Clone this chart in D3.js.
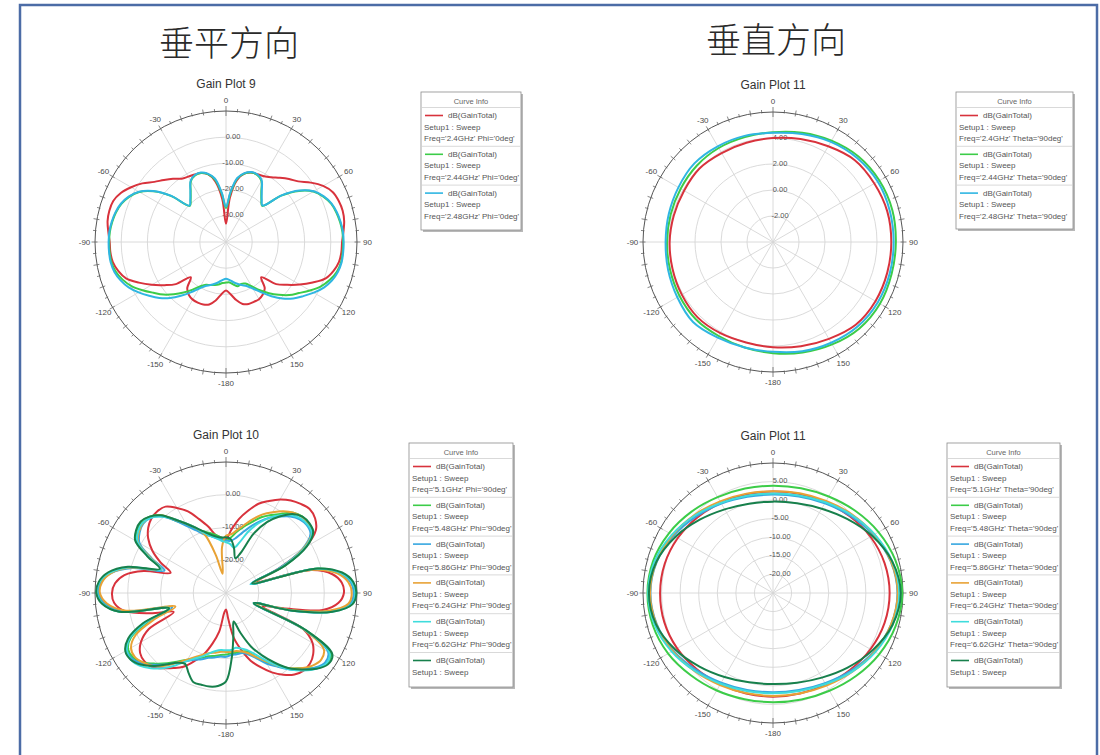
<!DOCTYPE html>
<html>
<head>
<meta charset="utf-8">
<script src="https://cdn.jsdelivr.net/npm/d3@7"></script>
<style>
  body { margin: 0; background: #fff; }
  svg { display: block; }
  text { font-family: "Liberation Sans", Arial, sans-serif; }
</style>
</head>
<body>
<div id="chart"></div>
<script>
var width = 1100, height = 755;
var svg = d3.select('#chart').append('svg')
  .attr('width', width)
  .attr('height', height);

// angles in degrees, 0 at top, clockwise (HFSS style)
var anglesFine = [-180,-175,-170,-165,-160,-155,-150,-145,-140,-135,-130,-125,-120,-115,-110,-105,-100,-95,-90,-85,-80,-75,-70,-65,-60,-55,-50,-45,-40,-35,-30,-25,-20,-15,-10,-5,0,5,10,15,20,25,30,35,40,45,50,55,60,65,70,75,80,85,90,95,100,105,110,115,120,125,130,135,140,145,150,155,160,165,170,175];
var anglesCoarse = [-180,-165,-150,-135,-120,-105,-90,-75,-60,-45,-30,-15,0,15,30,45,60,75,90,105,120,135,150,165];

var angleTicks = [0,30,60,90,120,150,180,210,240,270,300,330];
var angleTickLabels = ['0','30','60','90','120','150','-180','-150','-120','-90','-60','-30'];

// Gain Plot 9 : Phi = 0deg, dB(GainTotal)
var gp9Red   = [-21.5,-20,-17.3,-15.3,-14.6,-14.5,-14.6,-15.3,-17,-21,-15,-11.3,-7.3,-3.3,0.6,2.6,3.9,4.3,4.4,5.1,5.9,6.1,5.8,4.3,1.8,-1,-4.3,-6.5,-8.5,-10.5,-11.2,-11.6,-12,-13.2,-16.5,-23.5,-33,-23,-16,-13,-11.8,-11.5,-11,-9.8,-8,-6,-4,-0.5,2.8,5,5.8,6.1,5.8,5,4.3,4.2,3.8,2.5,0.5,-3.5,-7.5,-11.5,-15,-21,-17,-15.5,-14.8,-14.8,-14.8,-15.5,-17.5,-20];
var gp9Green = [-24.5,-24.3,-23.5,-23,-22.5,-22,-20.5,-17.8,-14.8,-11.8,-8.8,-6.2,-3.2,-0.2,2,3.6,4.4,4.6,4.6,4.5,4.1,3.5,2.5,0.8,-1.8,-6.3,-12.8,-20.5,-19,-16.5,-13.2,-12,-12,-13.2,-15.8,-21.5,-27,-21.5,-15.5,-13,-11.8,-11.8,-13,-16.5,-19,-20.5,-12.5,-6,-1.5,1,2.7,3.6,4.2,4.6,4.7,4.7,4.6,3.8,2.2,0,-3,-6,-8.5,-11.5,-14.5,-17.5,-20.5,-22.5,-23,-22.5,-23.5,-24.5];
var gp9Cyan  = [-26,-25.5,-24.5,-23.5,-22.5,-21.5,-19.5,-16.5,-13.2,-9.8,-6.8,-4.2,-1.5,1,2.8,4.1,4.7,4.8,4.8,4.7,4.3,3.7,2.7,1,-1.6,-6,-12.5,-20.3,-18.8,-16.3,-13,-11.8,-11.8,-13,-15.4,-21,-26.5,-21,-15.2,-12.8,-11.6,-11.6,-12.8,-16.2,-18.8,-20.3,-12.3,-5.8,-1.3,1.2,2.9,3.8,4.4,4.8,4.9,4.9,4.8,4.2,3,1.2,-1.3,-4,-6.5,-9.5,-13,-16.5,-19.5,-21.5,-22.5,-23.5,-24.5,-25.5];
var gp9Rings = [-30,-20,-10,0];
var gp9Freq = ["Freq='2.4GHz' Phi='0deg'", "Freq='2.44GHz' Phi='0deg'", "Freq='2.48GHz' Phi='0deg'"];

// Gain Plot 11 (upper) : Theta = 90deg
var gp11aRed   = [4.1,4.0,4.1,4.2,4.1,4.0,3.95,3.9,3.9,4.0,3.9,3.9,4.0,4.2,4.5,4.9,5.0,5.1,5.1,5.1,5.1,5.0,4.6,4.3];
var gp11aGreen = [4.55,4.4,4.35,4.4,4.3,4.2,4.15,4.15,4.2,4.3,4.35,4.35,4.45,4.7,5.0,5.3,5.45,5.5,5.45,5.45,5.5,5.4,5.1,4.8];
var gp11aCyan  = [4.45,4.4,4.5,4.7,4.5,4.35,4.26,4.3,4.4,4.55,4.5,4.45,4.4,4.6,4.9,5.15,5.3,5.3,5.28,5.3,5.3,5.2,4.95,4.7];
var gp11aRings = [-2,0,2,4];
var gp11aFreq = ["Freq='2.4GHz' Theta='90deg'", "Freq='2.44GHz' Theta='90deg'", "Freq='2.48GHz' Theta='90deg'"];

// Gain Plot 10 : Phi = 90deg, 5-7 GHz band
var gp10F510 = [-25,-24,-18,-14,-10,-7,-4,-2,0,2,2.5,2,0,-4,-13,-6,1.5,4.3,4.8,4,1.5,-4,-12,-8,-4,-1,1,2.2,2.6,2.2,0,-2.5,-6,-9,-12,-13,-13.5,-10.5,-7,-4,-1,1,3,4.5,5.5,6.2,5.5,3.5,-2,-12,-20,-3,3,5.5,6,4.5,0,-12,-18,-4,0.5,2.5,3.5,3.5,2.5,0.5,-2,-5,-8,-12,-16,-22];
var gp10F548 = [-11.2,-11,-10.5,-10,-9,-8,-6.5,-4.5,-2,0.5,3,4.5,4.5,2,-5,-12,3,7.5,9.2,8.6,6,0,-9,-4,1.5,3,3.8,3,1,-3,-6,-8.5,-10,-11,-12,-13,-14,-13,-11,-9,-7,-4.5,-2.5,-0.5,2,3,3,2.5,-2,-10,-21,-1,5.5,8.5,9.3,8.3,2,-10,-21,-3,7,7.5,5.5,2.5,0,-3,-5.5,-8.5,-11,-11.5,-11.5,-11.5];
var gp10F586 = [-10.5,-10.5,-10,-9.5,-8.5,-7.5,-6,-4,-1.5,1,3.5,5,5,2.5,-4,-13,2,7,8.8,8.2,5.5,-0.5,-10,-5,0.5,2.2,3,2.5,0.5,-3,-6.5,-9,-11,-12,-13,-13.5,-14,-14,-13,-11,-8.5,-6,-3.5,-1.5,0.5,1.8,2.2,1.5,-3,-12,-22,-2,5,8.2,9,8,2.5,-9,-21,-4,6,7,5.5,3,0.5,-2.5,-5,-8,-10,-11,-11,-11];
var gp10F624 = [-12,-12,-11.5,-11,-10,-8.5,-6.5,-4,-1,1.5,3,4,3.5,0.5,-7,-14,1,6.5,8.5,8,5.5,0,-9,-4.5,1,2.5,3.2,2.8,1,-2.5,-5.5,-8,-11,-18,-24,-16,-12.5,-12,-10.5,-8.5,-6,-3.5,-1.5,0.5,2,2.8,2.8,2,-2.5,-11,-21,-2.5,4.5,7.5,8.4,7.5,1.5,-10,-20,-4,4.5,5.5,4.5,2.5,0,-3,-6,-8.5,-10.5,-11.5,-12,-12];
var gp10F662 = [-12.5,-12.5,-12,-11,-9.5,-8,-6,-3,0,2.5,4.5,5.5,5,2.5,-4,-12,3,7.8,9.4,8.8,6,0.5,-9,-4,1.2,2.8,3.3,2.5,0.5,-2.5,-5.5,-8,-10.5,-12,-13,-14,-14.5,-15,-16,-14,-10,-6.5,-3.5,-1,1,2.2,2.5,2,-2,-11,-22,-1.5,5.5,8.6,9.5,8.6,3,-9,-21,-3.5,6.5,7.5,6,3.5,0.5,-3,-6.5,-9.5,-11.5,-12.5,-13,-12.5];
var gp10F700 = [-3,-1.5,-1,-1,-1,-3,-5,-4,-1.5,1.5,4,5.5,5.5,3,-3,-12,3,8,9.6,9,6.5,1,-8.5,-3.5,2,3.5,4,3,1,-2.5,-5.5,-8,-10,-11.5,-12.5,-13,-13,-13.5,-16,-19,-17,-10,-5,-1.5,1.5,3,3.2,2.5,-1.5,-10,-21.5,-1,6,9,9.8,8.8,3,-9,-21,-3,7.5,8,6,3,0,-4,-8,-12,-17,-21,-17,-10];
var gp10Rings = [-20,-10,0];
var gp10Freq = ["Freq='5.1GHz' Phi='90deg'", "Freq='5.48GHz' Phi='90deg'", "Freq='5.86GHz' Phi='90deg'", "Freq='6.24GHz' Phi='90deg'", "Freq='6.62GHz' Phi='90deg'", null];

// Gain Plot 11 (lower) : Theta = 90deg, 5-7 GHz band
var gp11bF510 = [2.9,3.0,3.3,4.0,4.8,5.3,5.4,5.2,4.6,3.8,3.0,2.5,2.3,2.6,3.2,4.2,5.3,6.1,6.4,6.1,5.3,4.3,3.4,3.0];
var gp11bF548 = [4.4,4.6,5.3,6.3,7.6,8.5,8.8,8.4,7.3,6.0,4.8,4.1,3.9,4.2,5.0,6.3,7.8,9.1,9.8,9.2,8.0,6.6,5.4,4.7];
var gp11bF586 = [1.7,2.0,2.9,4.3,6.0,7.4,8.0,7.4,5.9,4.2,2.8,1.8,1.5,1.9,2.9,4.4,6.2,7.8,8.5,7.9,6.4,4.6,3.0,2.0];
var gp11bF624 = [2.7,2.9,3.6,4.8,6.2,7.5,8.1,7.5,6.2,4.8,3.5,2.7,2.4,2.8,3.6,5.0,6.5,7.9,8.6,7.9,6.6,5.1,3.8,3.0];
var gp11bF662 = [2.0,2.3,3.2,4.7,6.5,8.0,8.6,8.0,6.4,4.6,3.0,2.1,1.8,2.2,3.2,4.8,6.6,8.2,9.0,8.3,6.8,5.0,3.3,2.3];
var gp11bF700 = [-0.5,-0.1,1.1,3.0,5.4,7.6,8.4,7.5,5.3,2.9,1.0,-0.1,-0.4,0.0,1.2,3.2,5.8,8.2,9.4,8.3,5.9,3.4,1.3,0.0];
var gp11bRings = [-20,-15,-10,-5,0,5];
var gp11bFreq = ["Freq='5.1GHz' Theta='90deg'", "Freq='5.48GHz' Theta='90deg'", "Freq='5.86GHz' Theta='90deg'", "Freq='6.24GHz' Theta='90deg'", "Freq='6.62GHz' Theta='90deg'", null];

var colors3 = ['#d8323c', '#3ccc48', '#2fb6e2'];
var colors6 = ['#d8323c', '#3ccc48', '#36a6e0', '#e8a235', '#3fdcdc', '#17804c'];

var rad = Math.PI / 180;

// frame
svg.append('rect')
  .attr('x', 20).attr('y', 5)
  .attr('width', 1077).attr('height', 780)
  .attr('fill', 'none')
  .attr('stroke', '#4c6ca6')
  .attr('stroke-width', 2.5);

// headings
svg.append('text').attr('x', 229).attr('y', 56)
  .attr('text-anchor', 'middle')
  .style('font-family', '"Noto Sans CJK SC", "Noto Sans CJK JP", sans-serif')
  .style('font-weight', 300)
  .attr('font-size', 35).attr('fill', '#2a2a2a')
  .text('垂平方向');
svg.append('text').attr('x', 776).attr('y', 53)
  .attr('text-anchor', 'middle')
  .style('font-family', '"Noto Sans CJK SC", "Noto Sans CJK JP", sans-serif')
  .style('font-weight', 300)
  .attr('font-size', 35).attr('fill', '#2a2a2a')
  .text('垂直方向');

function polarPlot(p) {
  var r = d3.scaleLinear().domain(p.domain).range([0, p.R]).clamp(true);

  svg.append('text')
    .attr('x', p.cx).attr('y', p.cy - p.R - 23)
    .attr('text-anchor', 'middle')
    .attr('font-size', 12).attr('fill', '#333')
    .text(p.title);

  var g = svg.append('g').attr('transform', 'translate(' + p.cx + ',' + p.cy + ')');

  g.selectAll('circle.ring')
    .data(p.rings)
    .enter().append('circle')
    .attr('class', 'ring')
    .attr('r', function(d) { return r(d); })
    .attr('fill', 'none')
    .attr('stroke', '#d6d6d6')
    .attr('stroke-width', 0.9);

  g.selectAll('line.spoke')
    .data(angleTicks)
    .enter().append('line')
    .attr('class', 'spoke')
    .attr('x1', 0).attr('y1', 0)
    .attr('x2', function(d) { return p.R * Math.sin(d * rad); })
    .attr('y2', function(d) { return -p.R * Math.cos(d * rad); })
    .attr('stroke', '#d6d6d6')
    .attr('stroke-width', 0.9);

  g.append('circle')
    .attr('r', p.R)
    .attr('fill', 'none')
    .attr('stroke', '#555')
    .attr('stroke-width', 1);

  // ticks round the rim
  var ticks = d3.range(0, 360, 5);
  function tin(d) { return d % 180 === 0 ? 5 : (d % 10 === 0 ? 2.5 : 1); }
  function tout(d) { return d % 180 === 0 ? 5 : (d % 10 === 0 ? 3.5 : 2.5); }
  g.selectAll('line.tick')
    .data(ticks)
    .enter().append('line')
    .attr('class', 'tick')
    .attr('x1', function(d) { return (p.R - tin(d)) * Math.sin(d * rad); })
    .attr('y1', function(d) { return -(p.R - tin(d)) * Math.cos(d * rad); })
    .attr('x2', function(d) { return (p.R + tout(d)) * Math.sin(d * rad); })
    .attr('y2', function(d) { return -(p.R + tout(d)) * Math.cos(d * rad); })
    .attr('stroke', '#666')
    .attr('stroke-width', 0.8);

  g.selectAll('text.alab')
    .data(angleTicks)
    .enter().append('text')
    .attr('class', 'alab')
    .attr('x', function(d) { return (p.R + 10.5) * Math.sin(d * rad); })
    .attr('y', function(d) { return -(p.R + 10.5) * Math.cos(d * rad); })
    .attr('text-anchor', 'middle')
    .attr('dominant-baseline', 'central')
    .attr('font-size', 8).attr('fill', '#4a4a4a')
    .text(function(d, i) { return angleTickLabels[i]; });

  g.selectAll('text.rlab')
    .data(p.rings)
    .enter().append('text')
    .attr('class', 'rlab')
    .attr('x', 7)
    .attr('y', function(d) { return -r(d) - 1; })
    .attr('text-anchor', 'middle')
    .attr('dominant-baseline', 'central')
    .attr('font-size', 7.5).attr('fill', '#555')
    .text(function(d) { return d.toFixed(2); });

  var line = d3.lineRadial()
    .angle(function(d, i) { return p.angles[i] * rad; })
    .radius(function(d) { return r(d); })
    .curve(d3.curveCatmullRomClosed.alpha(0.5));

  g.selectAll('path.curve')
    .data(p.series)
    .enter().append('path')
    .attr('class', 'curve')
    .attr('d', function(d) { return line(d.values); })
    .attr('fill', 'none')
    .attr('stroke', function(d) { return d.color; })
    .attr('stroke-width', 2);
}

function legend(lg) {
  var g = svg.append('g').attr('transform', 'translate(' + lg.x + ',' + lg.y + ')');
  var step = 38.8;
  g.append('rect').attr('x', 2).attr('y', 2)
    .attr('width', lg.w).attr('height', lg.h)
    .attr('fill', '#b8b8b8');
  g.append('rect')
    .attr('width', lg.w).attr('height', lg.h)
    .attr('fill', '#fff')
    .attr('stroke', '#8c8c8c').attr('stroke-width', 0.8);
  g.append('text')
    .attr('x', lg.w / 2).attr('y', 9.5)
    .attr('text-anchor', 'middle').attr('dominant-baseline', 'central')
    .attr('font-size', 7.5).attr('fill', '#666')
    .text('Curve Info');
  g.append('line').attr('x1', 0).attr('x2', lg.w).attr('y1', 15.5).attr('y2', 15.5)
    .attr('stroke', '#cfcfcf').attr('stroke-width', 0.8);

  lg.colors.forEach(function(c, i) {
    var y0 = 15.5 + i * step;
    g.append('line')
      .attr('x1', 4).attr('x2', 22).attr('y1', y0 + 8).attr('y2', y0 + 8)
      .attr('stroke', c).attr('stroke-width', 1.6);
    g.append('text').attr('x', 27).attr('y', y0 + 8)
      .attr('dominant-baseline', 'central')
      .attr('font-size', 8).attr('fill', '#555')
      .text('dB(GainTotal)');
    g.append('text').attr('x', 3).attr('y', y0 + 19.5)
      .attr('dominant-baseline', 'central')
      .attr('font-size', 8).attr('fill', '#555')
      .text('Setup1 : Sweep');
    if (lg.freq[i]) {
      g.append('text').attr('x', 3).attr('y', y0 + 31)
        .attr('dominant-baseline', 'central')
        .attr('font-size', 8).attr('fill', '#555')
        .text(lg.freq[i]);
    }
    if (i < lg.colors.length - 1) {
      g.append('line').attr('x1', 0).attr('x2', lg.w)
        .attr('y1', y0 + step).attr('y2', y0 + step)
        .attr('stroke', '#cfcfcf').attr('stroke-width', 0.8);
    }
  });
}

polarPlot({
  title: 'Gain Plot 9', cx: 226, cy: 242, R: 131,
  domain: [-40, 10], rings: gp9Rings, angles: anglesFine,
  series: [
    {values: gp9Red, color: colors3[0]},
    {values: gp9Green, color: colors3[1]},
    {values: gp9Cyan, color: colors3[2]}
  ]
});
legend({x: 421, y: 92, w: 100, h: 138, colors: colors3, freq: gp9Freq});

polarPlot({
  title: 'Gain Plot 11', cx: 773, cy: 242, R: 130,
  domain: [-4, 6], rings: gp11aRings, angles: anglesCoarse,
  series: [
    {values: gp11aRed, color: colors3[0]},
    {values: gp11aGreen, color: colors3[1]},
    {values: gp11aCyan, color: colors3[2]}
  ]
});
legend({x: 956, y: 92, w: 117, h: 137, colors: colors3, freq: gp11aFreq});

polarPlot({
  title: 'Gain Plot 10', cx: 226, cy: 593, R: 131,
  domain: [-30, 10], rings: gp10Rings, angles: anglesFine,
  series: [
    {values: gp10F510, color: colors6[0]},
    {values: gp10F548, color: colors6[1]},
    {values: gp10F586, color: colors6[2]},
    {values: gp10F624, color: colors6[3]},
    {values: gp10F662, color: colors6[4]},
    {values: gp10F700, color: colors6[5]}
  ]
});
legend({x: 409, y: 443, w: 104, h: 244, colors: colors6, freq: gp10Freq});

polarPlot({
  title: 'Gain Plot 11', cx: 773, cy: 593, R: 130,
  domain: [-25, 10], rings: gp11bRings, angles: anglesCoarse,
  series: [
    {values: gp11bF510, color: colors6[0]},
    {values: gp11bF548, color: colors6[1]},
    {values: gp11bF586, color: colors6[2]},
    {values: gp11bF624, color: colors6[3]},
    {values: gp11bF662, color: colors6[4]},
    {values: gp11bF700, color: colors6[5]}
  ]
});
legend({x: 947, y: 443, w: 113, h: 244, colors: colors6, freq: gp11bFreq});
</script>
</body>
</html>
